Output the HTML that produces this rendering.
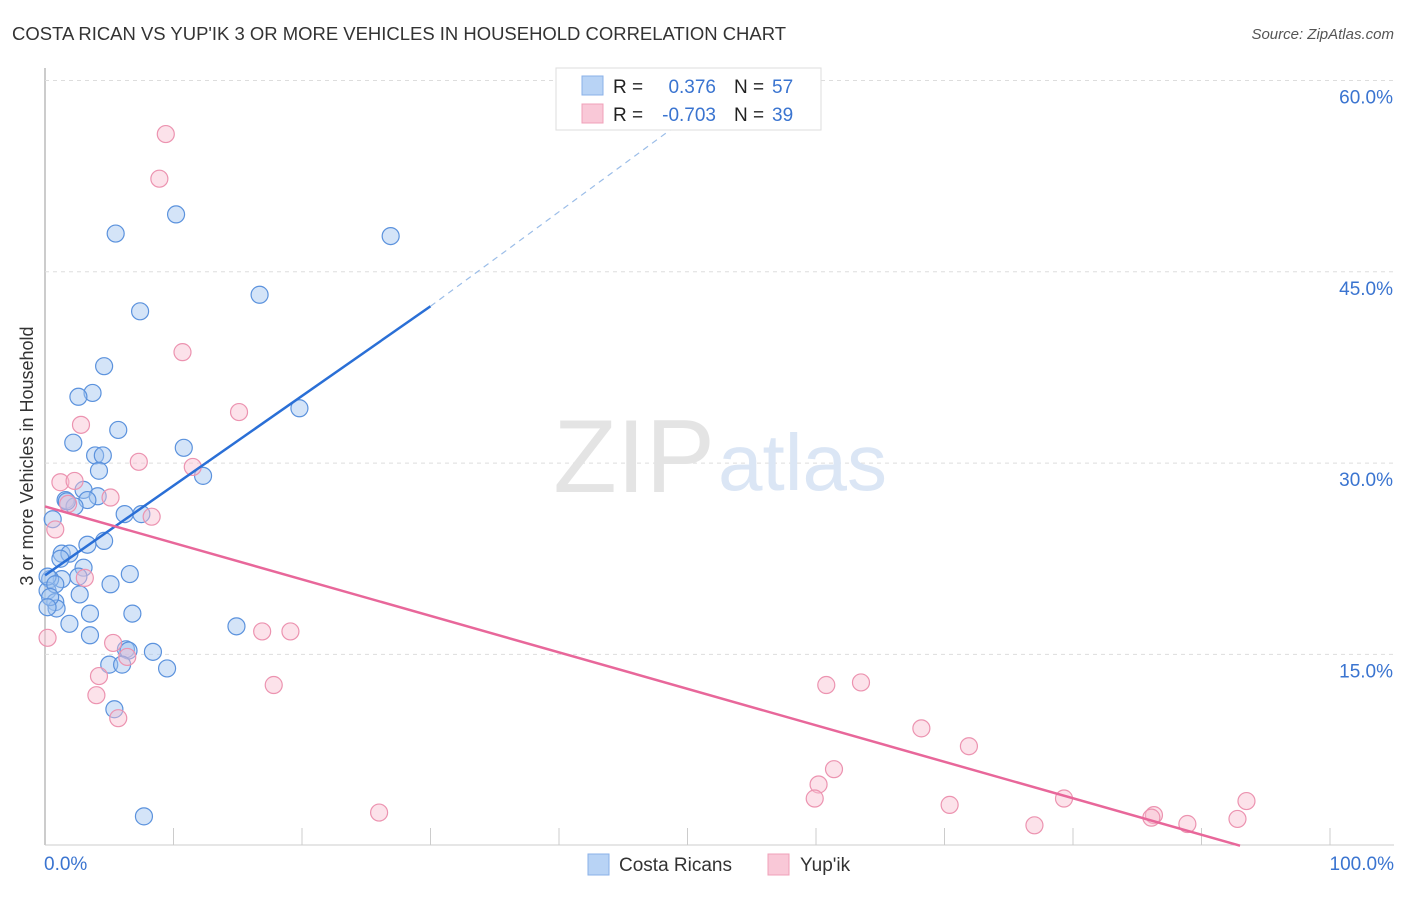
<!DOCTYPE html>
<html><head><meta charset="utf-8"><style>
body{margin:0;background:#fff;font-family:"Liberation Sans",sans-serif;}
svg text{font-family:"Liberation Sans",sans-serif;}
</style></head><body>
<svg id="chart" width="1406" height="892">
<text x="12" y="40" font-size="18" fill="#333" textLength="774" lengthAdjust="spacingAndGlyphs">COSTA RICAN VS YUP'IK 3 OR MORE VEHICLES IN HOUSEHOLD CORRELATION CHART</text>
<text x="1394" y="39" font-size="15" fill="#555" font-style="italic" text-anchor="end">Source: ZipAtlas.com</text>
<text x="33" y="456" font-size="18" fill="#333" text-anchor="middle" transform="rotate(-90 33 456)">3 or more Vehicles in Household</text>
<g id="grid"></g>
<text x="715" y="492" font-size="104" fill="#e4e4e4" text-anchor="end" font-family="Liberation Serif">ZIP</text>
<text x="718" y="490" font-size="80" fill="#dbe6f5">atlas</text>
<g id="points"></g>
<g id="lines"></g>
<g>
<rect x="556" y="68" width="265" height="62" fill="#fff" stroke="#ddd"/>
<rect x="582" y="76" width="21" height="19" fill="#b8d3f5" stroke="#8ab0e8"/>
<rect x="582" y="104" width="21" height="19" fill="#f9c8d7" stroke="#f0a0b8"/>
<text x="613" y="93" font-size="19" fill="#222">R =</text><text x="716" y="93" font-size="19" fill="#3a74d0" text-anchor="end">0.376</text>
<text x="734" y="93" font-size="19" fill="#222">N =</text><text x="772" y="93" font-size="19" fill="#3a74d0">57</text>
<text x="613" y="121" font-size="19" fill="#222">R =</text><text x="716" y="121" font-size="19" fill="#3a74d0" text-anchor="end">-0.703</text>
<text x="734" y="121" font-size="19" fill="#222">N =</text><text x="772" y="121" font-size="19" fill="#3a74d0">39</text>
</g>
<g>
<rect x="588" y="854" width="21" height="21" fill="#b8d3f5" stroke="#8ab0e8"/>
<text x="619" y="871" font-size="19" fill="#333">Costa Ricans</text>
<rect x="768" y="854" width="21" height="21" fill="#f9c8d7" stroke="#f0a0b8"/>
<text x="800" y="871" font-size="19" fill="#333">Yup'ik</text>
</g>
</svg>
<script>
const yTicks=[15,30,45,60];
const xTickLabels=["0.0%","100.0%"];
const blueX=[5.5,10.2,26.9,16.7,7.4,4.6,3.7,2.6,5.7,19.8,2.2,10.8,3.9,4.5,4.2,12.3,3.0,4.1,1.6,3.3,2.3,6.2,7.5,4.6,3.3,1.3,1.9,1.2,3.0,2.6,1.3,6.6,5.1,0.4,0.2,2.7,0.8,0.9,3.5,6.8,1.9,14.9,3.5,8.4,6.3,6.5,5.0,6.0,9.5,5.4,7.7,0.2,0.8,0.4,0.2,0.6,1.7];
const blueY=[48.0,49.5,47.8,43.2,41.9,37.6,35.5,35.2,32.6,34.3,31.6,31.2,30.6,30.6,29.4,29.0,27.9,27.4,27.1,27.1,26.6,26.0,26.0,23.9,23.6,22.9,22.9,22.5,21.8,21.1,20.9,21.3,20.5,20.9,20.0,19.7,19.1,18.6,18.2,18.2,17.4,17.2,16.5,15.2,15.4,15.3,14.2,14.2,13.9,10.7,2.3,21.1,20.5,19.5,18.7,25.6,27.0];
const pinkX=[9.4,8.9,10.7,15.1,2.8,7.3,11.5,1.2,2.3,5.1,8.3,0.8,3.1,0.2,5.3,16.9,19.1,6.4,4.2,17.8,4.0,5.7,60.8,63.5,68.2,71.9,61.4,60.2,59.9,70.4,79.3,77.0,86.3,86.1,88.9,93.5,92.8,26.0,1.8];
const pinkY=[55.8,52.3,38.7,34.0,33.0,30.1,29.7,28.5,28.6,27.3,25.8,24.8,21.0,16.3,15.9,16.8,16.8,14.8,13.3,12.6,11.8,10.0,12.6,12.8,9.2,7.8,6.0,4.8,3.7,3.2,3.7,1.6,2.4,2.2,1.7,3.5,2.1,2.6,26.8];
const blueLine=[0,21.2,30,42.3,52,58.6];
const pinkLine=[0,26.6,93,0];
const L=45,R=1330,T0=845.7,PPY=191.3/15;
const sx=v=>L+v/100*(R-L), sy=v=>T0-v*PPY;
const NS="http://www.w3.org/2000/svg";
function mk(tag,attrs,parent){const e=document.createElementNS(NS,tag);for(const k in attrs)e.setAttribute(k,attrs[k]);parent.appendChild(e);return e;}
const grid=document.getElementById('grid');
const ax=mk('line',{x1:L,x2:L,y1:68,y2:845,stroke:'#bbb','stroke-width':1.5},grid);


const bx=mk('line',{x1:L,x2:1394,y1:845,y2:845,stroke:'#ccc','stroke-width':1},grid);


yTicks.forEach(t=>{
 const g=mk('line',{x1:L,x2:1394,y1:sy(t),y2:sy(t),stroke:'#ddd','stroke-dasharray':'4,4'},grid);
 
 
 const tx=mk('text',{x:1393,y:sy(t)+23,'font-size':19,fill:'#3a74d0','text-anchor':'end'},grid);
 tx.textContent=t.toFixed(1)+'%';
 
 
});
for(let i=1;i<=10;i++){
 const tk=mk('line',{x1:sx(i*10),x2:sx(i*10),y1:828,y2:845,stroke:'#ccc'},grid);
 
 
}
const xl0=mk('text',{x:44,y:870,'font-size':19,fill:'#3a74d0'},grid);xl0.textContent=xTickLabels[0];


const xl1=mk('text',{x:1394,y:870,'font-size':19,fill:'#3a74d0','text-anchor':'end'},grid);xl1.textContent=xTickLabels[1];


const pts=document.getElementById('points');
blueX.forEach((x,i)=>{const c=mk('circle',{cx:sx(x),cy:sy(blueY[i]),r:8.5,fill:'rgba(160,196,240,0.45)',stroke:'#5b92dd','stroke-width':1.2},pts);
 
 });
pinkX.forEach((x,i)=>{const c=mk('circle',{cx:sx(x),cy:sy(pinkY[i]),r:8.5,fill:'rgba(248,190,208,0.45)',stroke:'#ec93b0','stroke-width':1.2},pts);
 
 });
const ln=document.getElementById('lines');
const b1=mk('line',{x1:sx(blueLine[0]),y1:sy(blueLine[1]),x2:sx(blueLine[2]),y2:sy(blueLine[3]),stroke:'#2a6fd6','stroke-width':2.5},ln);


const b2=mk('line',{x1:sx(blueLine[2]),y1:sy(blueLine[3]),x2:sx(blueLine[4]),y2:sy(blueLine[5]),stroke:'#9bbde8','stroke-width':1.2,'stroke-dasharray':'6,5'},ln);


const p1=mk('line',{x1:sx(pinkLine[0]),y1:sy(pinkLine[1]),x2:sx(pinkLine[2]),y2:sy(pinkLine[3]),stroke:'#e8679a','stroke-width':2.5},ln);


</script>
</body></html>
